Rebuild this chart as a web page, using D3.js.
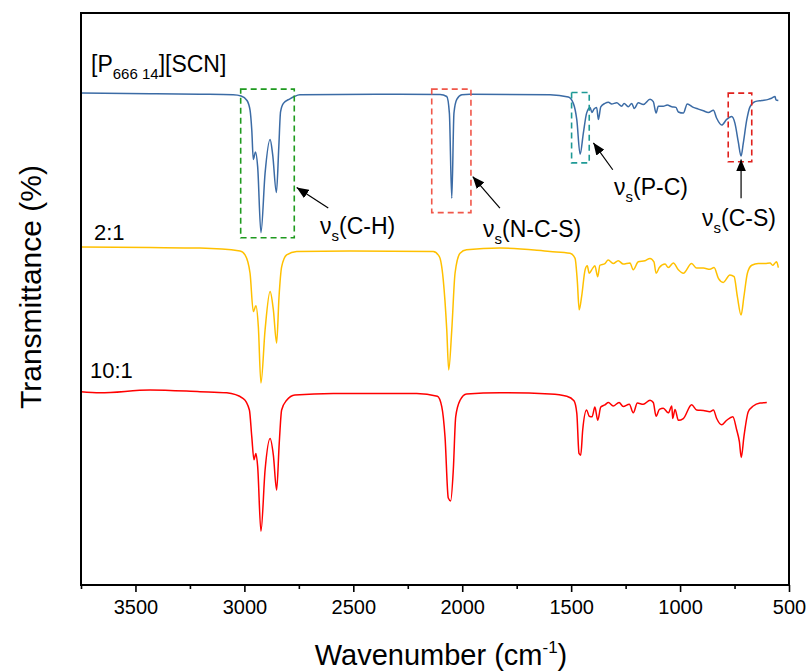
<!DOCTYPE html>
<html><head><meta charset="utf-8">
<script src="https://cdn.jsdelivr.net/npm/d3@7/dist/d3.min.js"></script>
<style>body{margin:0;background:#fff;} text{font-family:"Liberation Sans",Arial,sans-serif;}</style>
</head><body><svg id="c" width="811" height="671"></svg>
<script>
// ---- data (wavenumber cm-1, transmittance % with vertical offsets) ----
const pureWn = [3750,3433,3204,3052,3015,2988,2974,2966,2959,2949,2939,2924,2905,2882,2870,2853,2842,2834,2821,2791,2771,2745,2286,2102,2071,2059,2048,2038,2025,2002,1964,1597,1513,1490,1474,1459,1444,1429,1413,1405,1395,1383,1375,1364,1345,1329,1314,1291,1268,1257,1238,1222,1210,1192,1169,1138,1123,1110,1100,1077,1059,1038,1019,1008,985,967,939,916,893,870,847,832,809,786,763,748,733,720,710,694,679,656,625,595,580,564,560,549];
const pureT  = [86.0,85.9,85.8,85.7,85.5,84.7,83.0,79.5,74.4,75.7,73.1,61.6,72.0,77.9,75.2,68.6,76.6,82.7,84.2,85.0,85.4,85.7,85.8,85.75,85.4,82.5,67.6,82.5,84.9,85.7,85.8,85.7,85.3,84.2,81.3,75.3,79.0,82.5,83.5,82.6,83.2,83.5,81.4,83.6,84.2,84.4,84.1,84.3,83.7,84.2,83.6,84.2,83.3,84.3,84.0,84.9,84.5,82.5,83.7,83.7,83.9,83.6,83.5,82.7,82.5,84.1,83.5,83.2,82.9,82.6,83.0,81.6,80.4,81.4,81.9,80.7,77.5,75.0,77.2,81.3,83.6,84.5,84.7,84.9,85.1,85.4,84.8,84.7];
const r21Wn = [3750,3433,3204,3020,2997,2974,2959,2947,2936,2924,2905,2882,2867,2852,2841,2829,2806,2760,2515,2133,2105,2087,2071,2062,2048,2033,2010,1980,1827,1597,1505,1482,1472,1463,1452,1436,1426,1417,1401,1391,1378,1368,1345,1330,1307,1284,1261,1230,1215,1192,1161,1138,1120,1110,1095,1069,1054,1031,1008,985,947,924,893,863,844,824,802,771,752,737,720,707,691,671,641,610,587,575,564,557,549];
const r21T  = [59.1,59.0,58.9,58.4,57.7,54.5,47.8,48.8,45.2,35.3,44.6,51.3,48.1,42.3,50.4,55.6,57.7,58.3,58.4,58.3,57.4,53.3,44.6,37.6,44.6,54.5,58.0,58.6,58.9,58.3,58.0,57.1,53.3,48.1,50.4,55.1,55.8,54.5,55.4,55.8,53.9,55.9,56.2,56.8,56.2,56.7,56.1,56.3,55.1,56.5,56.7,57.1,56.5,54.5,55.5,56.1,55.5,56.3,55.1,54.5,56.2,55.4,55.4,55.2,55.5,53.6,52.9,54.2,53.9,50.4,47.2,50.4,54.5,55.9,56.2,56.2,56.3,55.9,56.3,56.5,55.5];
const r101Wn = [3750,3663,3433,3204,3081,3005,2977,2966,2956,2947,2939,2924,2905,2882,2867,2852,2840,2829,2806,2768,2592,2209,2114,2094,2079,2064,2053,2041,2030,2010,1980,1827,1597,1520,1487,1474,1464,1456,1447,1429,1417,1404,1391,1378,1364,1345,1329,1307,1280,1261,1233,1215,1196,1169,1138,1123,1110,1095,1077,1054,1038,1034,1023,1008,985,947,924,893,863,847,832,809,786,758,740,728,719,707,687,664,633,602];
const r101T  = [33.8,33.6,34.1,33.8,33.6,32.6,30.6,25.9,21.9,23.0,20.7,9.4,20.1,25.6,22.7,16.6,24.8,30.6,32.3,33.2,33.5,33.5,33.0,31.2,25.9,15.2,14.7,20.1,29.4,32.3,33.4,33.6,33.4,33.0,32.2,30.0,23.0,22.7,27.1,30.6,29.5,29.4,31.1,28.8,31.1,31.5,31.9,31.3,31.9,31.2,31.6,30.1,31.8,31.6,32.3,31.9,29.5,30.7,30.9,30.1,31.3,29.1,30.7,28.8,29.1,31.5,30.6,30.5,30.3,30.6,29.1,28.0,28.8,29.4,27.1,25.1,22.3,25.9,30.3,31.3,31.8,31.9];
const seriesNames = ["[P666 14][SCN]", "2:1", "10:1"];
const majorTicks = [3500,3000,2500,2000,1500,1000,500];
const minorTicks = [3750,3250,2750,2250,1750,1250,750];
// annotation boxes: [wnLeft, wnRight, Ttop, Tbottom]
const boxCH  = [3017,2771,86.7,60.7];
const boxNCS = [2140,1960,86.7,65.1];
const boxPC  = [1498,1417,86.1,73.8];
const boxCS  = [779,671,86.0,74.0];
// arrows: [wnTail, Ttail, wnHead, Thead]
const arrCH  = [2615,65.9,2760,69.5];
const arrNCS = [1827,65.9,1952,71.4];
const arrPC  = [1309,72.6,1398,77.3];
const arrCS  = [720,67.6,720,74.4];

// ---- drawing ----
const svg = d3.select("#c");
const L=81,R=789,T=13,B=585;
const x = d3.scaleLinear().domain([3750,500]).range([L,R]);
const y = d3.scaleLinear().domain([0,100]).range([B,T]);

svg.append("defs").append("marker").attr("id","ah").attr("viewBox","0 0 12 10")
  .attr("refX",12).attr("refY",5).attr("markerWidth",12).attr("markerHeight",10)
  .attr("markerUnits","userSpaceOnUse").attr("orient","auto")
  .append("path").attr("d","M0,0L12,5L0,10Z").attr("fill","#000");

const line = d3.line().x(d=>x(d[0])).y(d=>y(d[1])).curve(d3.curveMonotoneX);
const series = [[pureWn,pureT,"#3b6ba5"],[r21Wn,r21T,"#ffc000"],[r101Wn,r101T,"#ff0000"]];
series.forEach(([w,t,c])=>{
  svg.append("path").datum(w.map((v,i)=>[v,t[i]])).attr("d",line)
    .attr("fill","none").attr("stroke",c).attr("stroke-width",1.5).attr("stroke-linejoin","round");
});

// boxes
[[boxCH,"#1f9a1f"],[boxNCS,"#f0574a"],[boxPC,"#1f9a96"],[boxCS,"#e0201c"]].forEach(([b,c])=>{
  svg.append("rect").attr("x",x(b[0])).attr("y",y(b[2]))
    .attr("width",x(b[1])-x(b[0])).attr("height",y(b[3])-y(b[2]))
    .attr("fill","none").attr("stroke",c).attr("stroke-width",1.6).attr("stroke-dasharray","6,4");
});
// arrows
[arrCH,arrNCS,arrPC,arrCS].forEach(a=>{
  svg.append("line").attr("x1",x(a[0])).attr("y1",y(a[1])).attr("x2",x(a[2])).attr("y2",y(a[3]))
    .attr("stroke","#000").attr("stroke-width",1.2).attr("marker-end","url(#ah)");
});

// axes frame
const xAxis = d3.axisBottom(x).tickValues(majorTicks).tickSize(7).tickPadding(8).tickFormat(d3.format("d"));
const gx = svg.append("g").attr("transform",`translate(0,${B})`).call(xAxis);
gx.select(".domain").remove();
gx.selectAll("line").attr("stroke","#000").attr("stroke-width",1.6);
gx.selectAll("text").attr("font-size",20).attr("fill","#000").attr("font-family","Liberation Sans, Arial");
const gm = svg.append("g").attr("transform",`translate(0,${B})`)
  .call(d3.axisBottom(x).tickValues(minorTicks).tickSize(4).tickFormat(""));
gm.select(".domain").remove();
gm.selectAll("line").attr("stroke","#000").attr("stroke-width",1.6);
svg.append("rect").attr("x",L).attr("y",T).attr("width",R-L).attr("height",B-T)
  .attr("fill","none").attr("stroke","#000").attr("stroke-width",2);

// titles
const xt = svg.append("text").attr("x",441).attr("y",665).attr("text-anchor","middle").attr("font-size",29);
xt.append("tspan").text("Wavenumber (cm");
xt.append("tspan").text("-1").attr("font-size",17).attr("dy",-12);
xt.append("tspan").text(")").attr("dy",12);
svg.append("text").attr("transform",`translate(41,287) rotate(-90)`).attr("text-anchor","middle")
  .attr("font-size",30).text("Transmittance (%)");

// series labels
const s1 = svg.append("text").attr("x",91).attr("y",72).attr("font-size",23);
s1.append("tspan").text("[P");
s1.append("tspan").text("666 14").attr("font-size",15).attr("dy",7);
s1.append("tspan").text("][SCN]").attr("dy",-7);
svg.append("text").attr("x",94).attr("y",240).attr("font-size",22).text(seriesNames[1]);
svg.append("text").attr("x",90).attr("y",378).attr("font-size",22).text(seriesNames[2]);

// annotation labels
function nuLabel(px,py,txt){
  const t = svg.append("text").attr("x",px).attr("y",py).attr("font-size",23);
  t.append("tspan").text("\u03BD");
  t.append("tspan").text("s").attr("font-size",15).attr("dy",7);
  t.append("tspan").text(txt).attr("dy",-7);
}
nuLabel(320,234,"(C-H)");
nuLabel(483,237,"(N-C-S)");
nuLabel(614,195,"(P-C)");
nuLabel(702,226,"(C-S)");
</script></body></html>
